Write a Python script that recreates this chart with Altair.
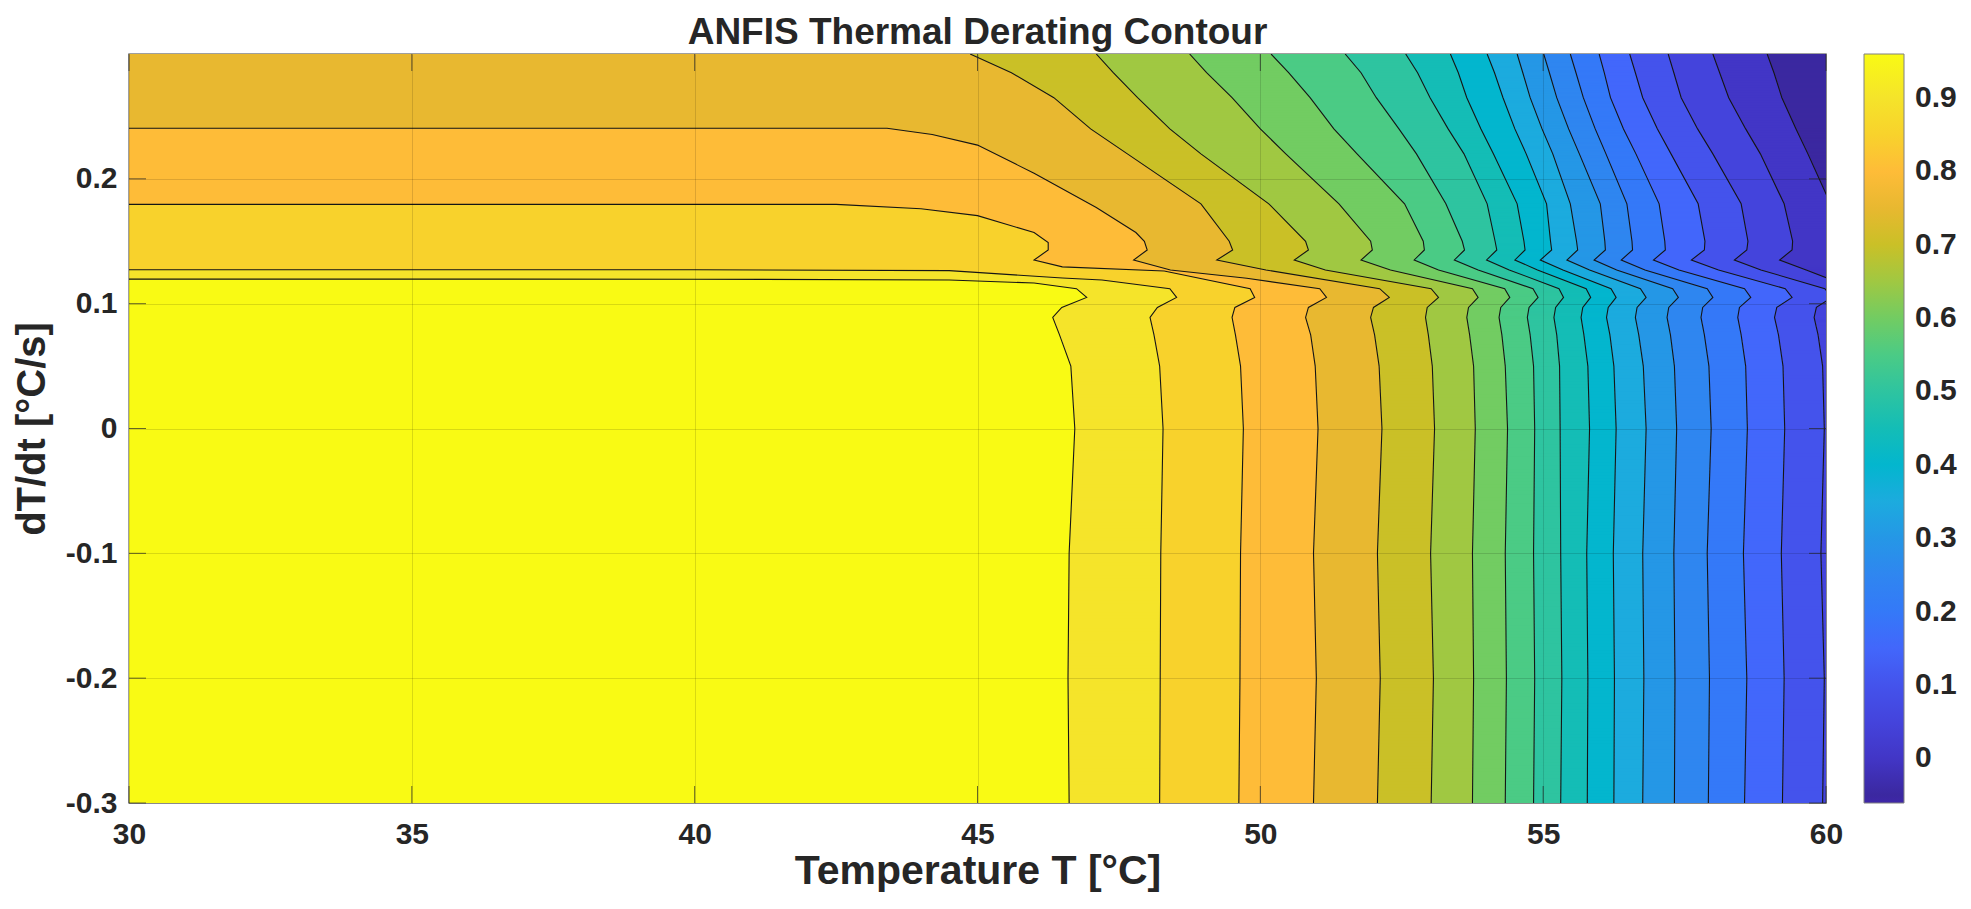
import altair as alt
import pandas as pd
import numpy as np

alt.data_transformers.disable_max_rows()

# ---------------- texts / axes ----------------
TITLE = "ANFIS Thermal Derating Contour"
X_TITLE = "Temperature T [°C]"
Y_TITLE = "dT/dt [°C/s]"

X_DOMAIN = [30.0, 60.0]
Y_DOMAIN = [-0.3, 0.3]
X_TICKS = [30, 35, 40, 45, 50, 55, 60]
Y_TICKS = [-0.3, -0.2, -0.1, 0.0, 0.1, 0.2]
CBAR_TICKS = [0.0, 0.1, 0.2, 0.3, 0.4, 0.5, 0.6, 0.7, 0.8, 0.9]

# ---------------- contour levels ----------------
LEVELS = [-0.05, 0.0, 0.05, 0.1, 0.15, 0.2, 0.25, 0.3, 0.35, 0.4,
          0.45, 0.5, 0.55, 0.6, 0.65, 0.7, 0.75, 0.8, 0.85, 0.9]
# fill value of band j (band j lies above j contour lines)
BAND_VALUES = [-0.05, 0.0, 0.05, 0.1, 0.15, 0.2, 0.25, 0.3, 0.35, 0.4,
               0.45, 0.5, 0.55, 0.6, 0.65, 0.7, 0.75, 0.8, 0.85, 0.9, 0.96]

# parula-like colour map (value -> colour)
COLOR_STOPS = [-0.061, -0.05, 0.0, 0.05, 0.1, 0.15, 0.2, 0.25, 0.3, 0.35, 0.4,
               0.45, 0.5, 0.55, 0.6, 0.65, 0.7, 0.75, 0.8, 0.85, 0.9, 0.96]
COLOR_HEX = ["#3E26A8", "#3B28A0", "#4236C6", "#4444DC", "#4453EC", "#4267FB",
             "#3479F8", "#2F86F0", "#2597E6", "#1CABDE", "#03B6CE", "#14BDB6",
             "#2EC4A0", "#4BCB85", "#72CC62", "#A0C842", "#CAC027", "#E8B830",
             "#FEBC38", "#F8D22C", "#F5E42A", "#F9FA14"]

# contour lines that enter from the top edge (levels 0..15):
# temperature of each line at these dT/dt rows
UPPER_ROWS = [0.300, 0.285, 0.265, 0.240, 0.220, 0.180, 0.150, 0.143, 0.135, 0.127]
UPPER_T = [
    [58.96, 59.08, 59.22, 59.47, 59.68, 60.08, 60.30, 60.33, 60.15, 60.60],  # -0.05
    [58.00, 58.12, 58.28, 58.58, 58.84, 59.26, 59.41, 59.40, 59.18, 59.65],  # 0.00
    [57.21, 57.31, 57.44, 57.73, 58.00, 58.50, 58.62, 58.60, 58.38, 58.85],  # 0.05
    [56.53, 56.63, 56.76, 57.02, 57.26, 57.74, 57.86, 57.85, 57.62, 58.10],  # 0.10
    [55.99, 56.08, 56.19, 56.42, 56.64, 57.05, 57.15, 57.16, 56.95, 57.40],  # 0.15
    [55.48, 55.58, 55.71, 55.92, 56.11, 56.48, 56.57, 56.58, 56.38, 56.80],  # 0.20
    [55.01, 55.11, 55.24, 55.45, 55.64, 56.01, 56.09, 56.10, 55.90, 56.30],  # 0.25
    [54.54, 54.64, 54.77, 54.98, 55.17, 55.48, 55.59, 55.61, 55.42, 55.82],  # 0.30
    [54.01, 54.14, 54.29, 54.50, 54.70, 55.06, 55.13, 55.15, 54.95, 55.35],  # 0.35
    [53.36, 53.50, 53.65, 53.90, 54.12, 54.54, 54.66, 54.68, 54.50, 54.90],  # 0.40
    [52.57, 52.78, 53.00, 53.32, 53.60, 54.01, 54.15, 54.18, 54.00, 54.40],  # 0.45
    [51.50, 51.78, 52.05, 52.45, 52.76, 53.28, 53.57, 53.61, 53.43, 53.85],  # 0.50
    [50.19, 50.50, 50.88, 51.30, 51.71, 52.55, 52.88, 52.90, 52.72, 53.15],  # 0.55
    [48.75, 49.05, 49.50, 50.00, 50.45, 51.39, 51.95, 51.98, 51.78, 52.30],  # 0.60
    [47.10, 47.40, 47.83, 48.40, 48.95, 50.15, 50.80, 50.85, 50.60, 51.15],  # 0.65
    [44.87, 45.60, 46.35, 47.00, 47.65, 48.95, 49.45, 49.51, 49.23, 50.10],  # 0.70
]

# contour lines that enter from the left edge (levels 16..19): explicit points
LEFT_T = [
    [30.00, 43.40, 44.20, 45.00, 46.00, 47.10, 47.80, 47.95, 48.00, 47.76, 48.41, 49.76],  # 0.75
    [30.00, 42.50, 44.00, 45.00, 46.00, 46.25, 46.25, 46.00, 46.50, 48.30],                # 0.80
    [30.00, 40.00, 44.50, 46.50, 47.20],                                                    # 0.85
    [30.00, 40.00, 44.50, 46.00],                                                           # 0.90
]
LEFT_D = [
    [0.2405, 0.2405, 0.2355, 0.2270, 0.2045, 0.1770, 0.1570, 0.1500, 0.1430, 0.1350, 0.1270, 0.1203],
    [0.1795, 0.1795, 0.1760, 0.1705, 0.1570, 0.1490, 0.1430, 0.1350, 0.1295, 0.1262],
    [0.1272, 0.1272, 0.1265, 0.1205, 0.1190],
    [0.1197, 0.1196, 0.1190, 0.1165],
]

# lower part of every line (levels 0..19): temperature at these dT/dt rows
LOWER_ROWS = [0.112, 0.105, 0.097, 0.089, 0.075, 0.050, 0.000, -0.100, -0.200, -0.300]
LOWER_T = [
    [61.20, 61.30, 61.10, 61.05, 61.10, 61.20, 61.25, 61.20, 61.25, 61.20],  # -0.05
    [60.50, 60.65, 60.40, 60.35, 60.40, 60.50, 60.55, 60.50, 60.55, 60.50],  # 0.00
    [59.98, 60.10, 59.83, 59.79, 59.86, 59.94, 59.97, 59.91, 59.97, 59.94],  # 0.05
    [59.28, 59.40, 59.13, 59.09, 59.16, 59.24, 59.27, 59.21, 59.26, 59.23],  # 0.10
    [58.56, 58.67, 58.47, 58.44, 58.50, 58.58, 58.61, 58.54, 58.60, 58.56],  # 0.15
    [57.90, 58.00, 57.82, 57.79, 57.85, 57.93, 57.97, 57.90, 57.94, 57.92],  # 0.20
    [57.29, 57.39, 57.22, 57.19, 57.25, 57.32, 57.36, 57.31, 57.33, 57.32],  # 0.25
    [56.72, 56.82, 56.66, 56.63, 56.69, 56.77, 56.82, 56.76, 56.78, 56.76],  # 0.30
    [56.20, 56.29, 56.15, 56.12, 56.18, 56.25, 56.29, 56.24, 56.26, 56.25],  # 0.35
    [55.76, 55.84, 55.70, 55.67, 55.72, 55.79, 55.82, 55.77, 55.79, 55.78],  # 0.40
    [55.28, 55.36, 55.22, 55.19, 55.24, 55.29, 55.30, 55.31, 55.33, 55.31],  # 0.45
    [54.82, 54.91, 54.75, 54.72, 54.77, 54.83, 54.85, 54.83, 54.85, 54.83],  # 0.50
    [54.32, 54.41, 54.25, 54.22, 54.27, 54.33, 54.37, 54.33, 54.35, 54.33],  # 0.55
    [53.75, 53.85, 53.68, 53.65, 53.70, 53.77, 53.80, 53.75, 53.77, 53.75],  # 0.60
    [53.02, 53.15, 52.95, 52.92, 52.97, 53.04, 53.08, 53.01, 53.06, 53.02],  # 0.65
    [52.11, 52.28, 52.00, 51.95, 52.02, 52.10, 52.15, 52.07, 52.12, 52.07],  # 0.70
    [51.05, 51.17, 50.85, 50.80, 50.89, 50.97, 51.02, 50.94, 50.99, 50.94],  # 0.75
    [49.82, 49.90, 49.55, 49.50, 49.56, 49.65, 49.70, 49.65, 49.64, 49.62],  # 0.80
    [48.40, 48.52, 48.18, 48.05, 48.12, 48.22, 48.28, 48.24, 48.23, 48.22],  # 0.85
    [46.75, 46.93, 46.49, 46.33, 46.45, 46.65, 46.72, 46.62, 46.60, 46.62],  # 0.90
]


# ---------------- build tables ----------------
def line_points(k):
    if k < len(UPPER_T):
        up = list(zip(UPPER_T[k], UPPER_ROWS))
    else:
        j = k - len(UPPER_T)
        up = list(zip(LEFT_T[j], LEFT_D[j]))
    return up + list(zip(LOWER_T[k], LOWER_ROWS))


def closed_polygon(k):
    pts = line_points(k)
    far = X_DOMAIN[0] - 10.0
    if k < len(UPPER_T):
        head = [(far, 1.0), (pts[0][0], 1.0)]
    else:
        head = [(far, pts[0][1])]
    tail = [(pts[-1][0], -1.0), (far, -1.0)]
    return head + pts + tail


def crossings(poly, yc):
    xs = []
    n = len(poly)
    for i in range(n):
        x1, y1 = poly[i]
        x2, y2 = poly[(i + 1) % n]
        if (y1 <= yc < y2) or (y2 <= yc < y1):
            xs.append(x1 + (yc - y1) * (x2 - x1) / (y2 - y1))
    return xs


polys = [closed_polygon(k) for k in range(len(LEVELS))]
row_edges = np.concatenate([
    np.arange(Y_DOMAIN[0], 0.085, 0.0025),
    np.arange(0.085, 0.16, 0.0004),
    np.arange(0.16, Y_DOMAIN[1], 0.001),
    [Y_DOMAIN[1]],
])
row_edges = sorted(set(np.round(row_edges, 6).tolist()))
OVERLAP = 0.0012  # rows overlap slightly upward so no seams show

rect_rows = []
for r0, r1 in zip(row_edges[:-1], row_edges[1:]):
    yc = 0.5 * (r0 + r1)
    xs_per = [crossings(p, yc) for p in polys]
    cuts = sorted({X_DOMAIN[0], X_DOMAIN[1],
                   *[x for xs in xs_per for x in xs if X_DOMAIN[0] < x < X_DOMAIN[1]]})
    runs = []
    for a, b in zip(cuts[:-1], cuts[1:]):
        if b - a < 1e-9:
            continue
        m = 0.5 * (a + b)
        j = sum(sum(1 for x in xs if x > m) % 2 for xs in xs_per)
        if runs and runs[-1][2] == j:
            runs[-1][1] = b
        else:
            runs.append([a, b, j])
    for a, b, j in runs:
        rect_rows.append({"x0": round(a, 4), "x1": round(b, 4),
                          "y0": r0, "y1": round(min(r1 + OVERLAP, Y_DOMAIN[1]), 6),
                          "v": BAND_VALUES[j]})
rect_df = pd.DataFrame(rect_rows)

line_rows = []
for k, lev in enumerate(LEVELS):
    for i, (t, d) in enumerate(line_points(k)):
        line_rows.append({"T": t, "d": d, "level": lev, "i": i})
line_df = pd.DataFrame(line_rows)

# ---------------- chart ----------------
FONT = "Liberation Sans"
TXT = "#262626"
x_scale = alt.Scale(domain=X_DOMAIN, nice=False, zero=False)
y_scale = alt.Scale(domain=Y_DOMAIN, nice=False, zero=False)
c_scale = alt.Scale(domain=COLOR_STOPS, range=COLOR_HEX, interpolate="rgb")

x_axis = alt.Axis(values=X_TICKS, format="d", title=X_TITLE,
                  labelFontSize=30, labelFontWeight="bold", labelColor=TXT,
                  labelPadding=16, labelFlush=False, labelOverlap=False,
                  ticks=False, domain=False, grid=True, gridColor="#000000",
                  gridOpacity=0.13, gridWidth=1,
                  titleFontSize=41, titleFontWeight="bold", titleColor=TXT,
                  titleBaseline="middle", titleAlign="center",
                  titleX=848.5, titleY=68, zindex=1)
y_axis = alt.Axis(values=Y_TICKS,
                  labelExpr="datum.value == 0 ? '0' : (datum.value < 0 ? '-' : '') + format(abs(datum.value), '.1f')",
                  title=Y_TITLE, labelFontSize=30, labelFontWeight="bold",
                  labelColor=TXT, labelPadding=12, labelOverlap=False,
                  ticks=False, domain=False, grid=True, gridColor="#000000",
                  gridOpacity=0.13, gridWidth=1,
                  titleFontSize=40, titleFontWeight="bold", titleColor=TXT,
                  titleAngle=270, titleBaseline="middle", titleAlign="center",
                  titleX=-97, titleY=374.5, zindex=1)
legend = alt.Legend(type="gradient", title=None, orient="none", legendX=1735, legendY=0,
                    direction="vertical", gradientLength=749,
                    gradientThickness=40, gradientStrokeColor="#808080",
                    gradientStrokeWidth=1, values=CBAR_TICKS,
                    labelExpr="datum.value == 0 ? '0' : format(datum.value, '.1f')",
                    labelFontSize=30, labelFontWeight="bold", labelColor=TXT,
                    labelOffset=11, labelOverlap=False)

fill = alt.Chart(rect_df).mark_rect(clip=True, strokeWidth=0).encode(
    x=alt.X("x0:Q", scale=x_scale, axis=x_axis),
    x2="x1:Q",
    y=alt.Y("y0:Q", scale=y_scale, axis=y_axis),
    y2="y1:Q",
    color=alt.Color("v:Q", scale=c_scale, legend=legend),
)

lines = alt.Chart(line_df).mark_line(clip=True, color="#151515", strokeWidth=1.1).encode(
    x=alt.X("T:Q", scale=x_scale, axis=x_axis),
    y=alt.Y("d:Q", scale=y_scale, axis=y_axis),
    detail="level:N",
    order="i:Q",
)

bx = pd.DataFrame({"T": X_TICKS, "lo": [Y_DOMAIN[0]] * len(X_TICKS), "hi": [Y_DOMAIN[1]] * len(X_TICKS)})
by = pd.DataFrame({"d": Y_TICKS, "lo": [X_DOMAIN[0]] * len(Y_TICKS), "hi": [X_DOMAIN[1]] * len(Y_TICKS)})

tick_style = dict(color=TXT, size=17, thickness=1)
t_bottom = alt.Chart(bx).mark_tick(orient="vertical", yOffset=-8.5, **tick_style).encode(
    x=alt.X("T:Q", scale=x_scale, axis=x_axis), y=alt.Y("lo:Q", scale=y_scale, axis=y_axis))
t_top = alt.Chart(bx).mark_tick(orient="vertical", yOffset=8.5, **tick_style).encode(
    x=alt.X("T:Q", scale=x_scale, axis=x_axis), y=alt.Y("hi:Q", scale=y_scale, axis=y_axis))
t_left = alt.Chart(by).mark_tick(orient="horizontal", xOffset=8.5, **tick_style).encode(
    x=alt.X("lo:Q", scale=x_scale, axis=x_axis), y=alt.Y("d:Q", scale=y_scale, axis=y_axis))
t_right = alt.Chart(by).mark_tick(orient="horizontal", xOffset=-8.5, **tick_style).encode(
    x=alt.X("hi:Q", scale=x_scale, axis=x_axis), y=alt.Y("d:Q", scale=y_scale, axis=y_axis))

chart = alt.layer(fill, lines, t_bottom, t_top, t_left, t_right).properties(
    width=1697,
    height=749,
    title=alt.TitleParams(TITLE, fontSize=37, fontWeight="bold", color=TXT,
                          anchor="middle", frame="group", baseline="top",
                          offset=2, font=FONT),
    padding={"left": 121, "top": 46, "right": 137, "bottom": 95},
    autosize=alt.AutoSizeParams(type="none"),
).configure(font=FONT).configure_view(stroke="#808080", strokeWidth=1.5)

chart.save("out.html", embed_options={"renderer": "svg", "actions": False})
